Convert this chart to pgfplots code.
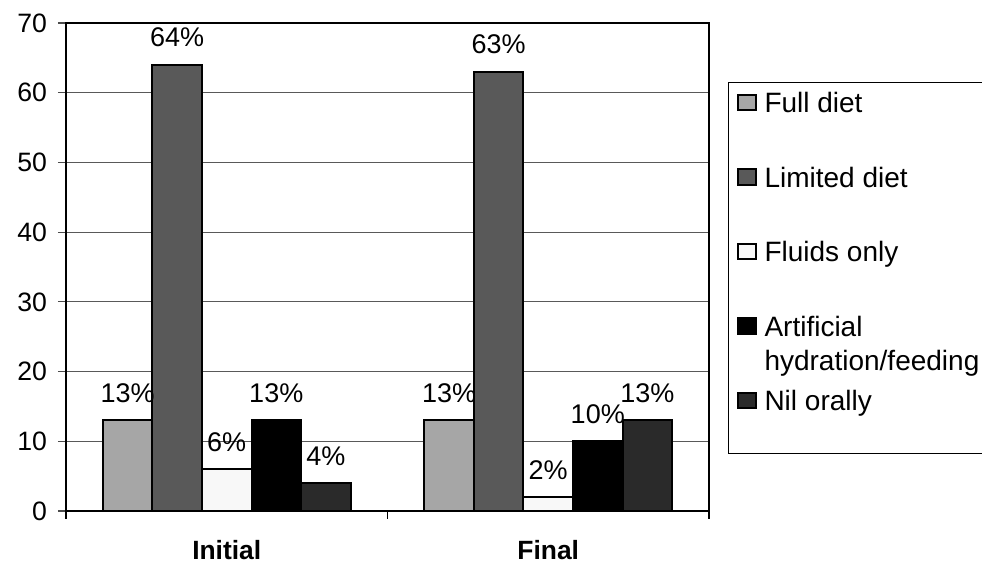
\documentclass[border=0pt]{standalone}
\usepackage{pgfplots}
\pgfplotsset{compat=1.18}
\usepackage{fontspec}
\setmainfont{Liberation Sans}
\definecolor{cFull}{HTML}{A6A6A6}
\definecolor{cLim}{HTML}{595959}
\definecolor{cFluid}{HTML}{F8F8F8}
\definecolor{cArt}{HTML}{000000}
\definecolor{cNil}{HTML}{2A2A2A}
\begin{document}
\begin{tikzpicture}
\begin{axis}[
  at={(0,0)}, anchor=south west,
  scale only axis, width=321.5pt, height=244pt,
  xmin=-0.5, xmax=1.5, ymin=0, ymax=70,
  ytick={0,10,...,70},
  ymajorgrids,
  grid style={draw=black!65, line width=0.5pt},
  axis line style={line width=1pt, black},
  xtick={0,1}, xticklabels={Initial,Final},
  major x tick style={draw=none},
  minor xtick={-0.5,0.5,1.5},
  minor x tick style={black, line width=0.6pt},
  minor tick length=4pt,
  major tick length=4pt,
  y tick style={black!70, line width=0.6pt},
  tick align=outside, tick pos=left,
  /pgf/number format/assume math mode=true,
  yticklabel style={font=\fontsize{13.3}{16}\selectfont, xshift=-2pt},
  xticklabel style={font=\fontsize{13.2}{15}\selectfont\bfseries, yshift=-7pt},
  ybar, bar width=0.154,
  every axis plot/.append style={draw=black, line width=1pt},
  nodes near coords={\pgfmathprintnumber{\pgfplotspointmeta}\%},
  every node near coord/.append style={font=\fontsize{13.5}{16}\selectfont, anchor=base, yshift=9pt, black},
  legend image code/.code={\draw[#1, line width=1pt] (0pt,1.1pt) rectangle (9pt,8.8pt);},
  legend style={at={(rel axis cs:1.0296,0.879)}, anchor=north west,
    draw=black, line width=0.5pt,
    font=\fontsize{14}{17}\selectfont,
    inner xsep=4pt, inner ysep=3.1pt,
    row sep=20.25pt, column sep=4pt,
    nodes={inner sep=0pt, text depth=},
    cells={anchor=base west}},
]
\addplot[fill=cFull, bar shift=-0.308] coordinates {(0,13) (1,13)};
\addlegendentry{\strut Full diet}
\addplot[fill=cLim, bar shift=-0.154] coordinates {(0,64) (1,63)};
\addlegendentry{\strut Limited diet}
\addplot[fill=cFluid, bar shift=0] coordinates {(0,6) (1,2)};
\addlegendentry{\strut Fluids only}
\addplot[fill=cArt, bar shift=0.154] coordinates {(0,13) (1,10)};
\addlegendentry{\strut\smash{\begin{tabular}[t]{@{}l@{}}Artificial\\hydration/feeding\end{tabular}}}
\addplot[fill=cNil, bar shift=0.308] coordinates {(0,4) (1,13)};
\addlegendentry{\strut Nil orally\rule[-18.4pt]{0pt}{1pt}}
\end{axis}
\pgfresetboundingbox
\path (-33pt,-25.5pt) rectangle (458pt,255.5pt);
\end{tikzpicture}
\end{document}
